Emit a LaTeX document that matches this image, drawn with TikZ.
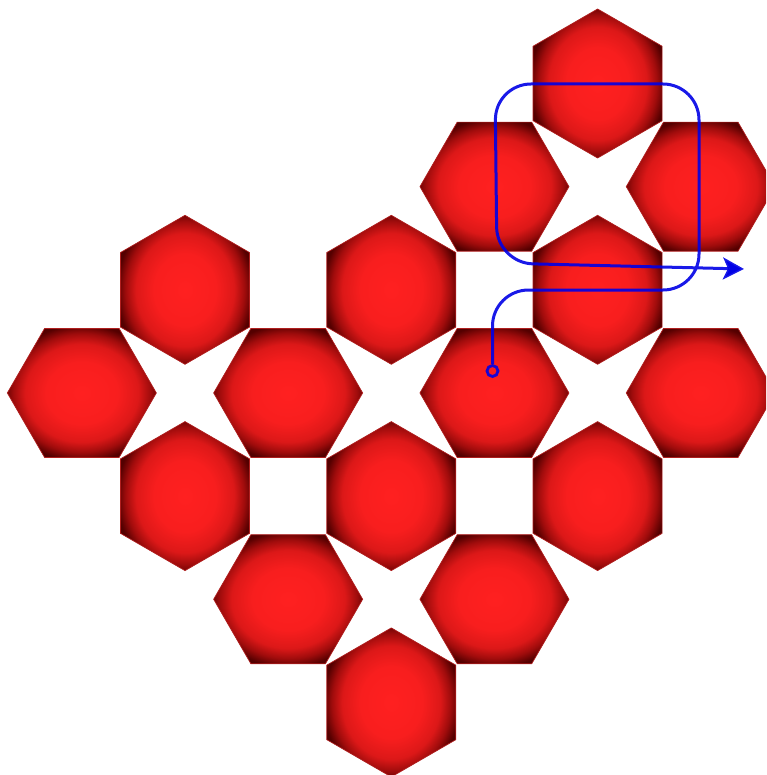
\documentclass[tikz,border=0pt]{standalone}
\usetikzlibrary{shapes.geometric,arrows.meta}
\definecolor{hexc}{RGB}{255,32,32}
\definecolor{hexb}{RGB}{248,30,30}
\definecolor{hexm}{RGB}{220,24,24}
\definecolor{hexn}{RGB}{160,12,12}
\definecolor{hexd}{RGB}{85,0,0}
\definecolor{hexe}{RGB}{60,0,0}
\definecolor{hexline}{RGB}{175,30,30}
\definecolor{pathblue}{RGB}{0,0,230}
\pgfdeclareradialshading{hexshade}{\pgfpointorigin}{color(0bp)=(hexc); color(12bp)=(hexb); color(19bp)=(hexm); color(23bp)=(hexn); color(26.5bp)=(hexd); color(37bp)=(hexe); color(50bp)=(hexe)}
\tikzset{
  hexbase/.style={regular polygon, regular polygon sides=6, minimum size=149pt,
    inner sep=0pt, outer sep=0pt, shading=hexshade, draw=hexline, line width=0.7pt},
  hexflat/.style={hexbase},
  hexpoint/.style={hexbase, shape border rotate=30},
  route/.style={draw=pathblue, draw opacity=0.9, line width=3pt, rounded corners=36pt},
  startmark/.style={circle, draw=pathblue, draw opacity=0.9, line width=2.8pt, minimum size=11pt, inner sep=0pt}
}
\begin{document}
\begin{tikzpicture}[x=1pt,y=-1pt]
\useasboundingbox (0,0) rectangle (766,775);
\clip (0,0) rectangle (766,775);
% pointy-top hexagons
\node[hexpoint] (p40) at (597.6,83.5) {};
\node[hexpoint] (p02) at (185,289.8) {};
\node[hexpoint] (p22) at (391.3,289.8) {};
\node[hexpoint] (p42) at (597.6,289.8) {};
\node[hexpoint] (p04) at (185,496.1) {};
\node[hexpoint] (p24) at (391.3,496.1) {};
\node[hexpoint] (p44) at (597.6,496.1) {};
\node[hexpoint] (p26) at (391.3,702.4) {};
% flat-top hexagons
\node[hexflat] (f31) at (494.45,186.65) {};
\node[hexflat] (f51) at (700.75,186.65) {};
\node[hexflat] (fm3) at (81.85,392.95) {};
\node[hexflat] (f13) at (288.15,392.95) {};
\node[hexflat] (f33) at (494.45,392.95) {};
\node[hexflat] (f53) at (700.75,392.95) {};
\node[hexflat] (f15) at (288.15,599.25) {};
\node[hexflat] (f35) at (494.45,599.25) {};
% blue route
\node[startmark] (s) at (492.5,371) {};
\coordinate (e) at (744,269);
\draw[route, -{Stealth[length=21pt,width=22pt,inset=5pt]}]
  (s.north) -- (492.5,290) -- (699,290) -- (699,84) -- (495,84) -- (497,263) -- (e);
\end{tikzpicture}
\end{document}
